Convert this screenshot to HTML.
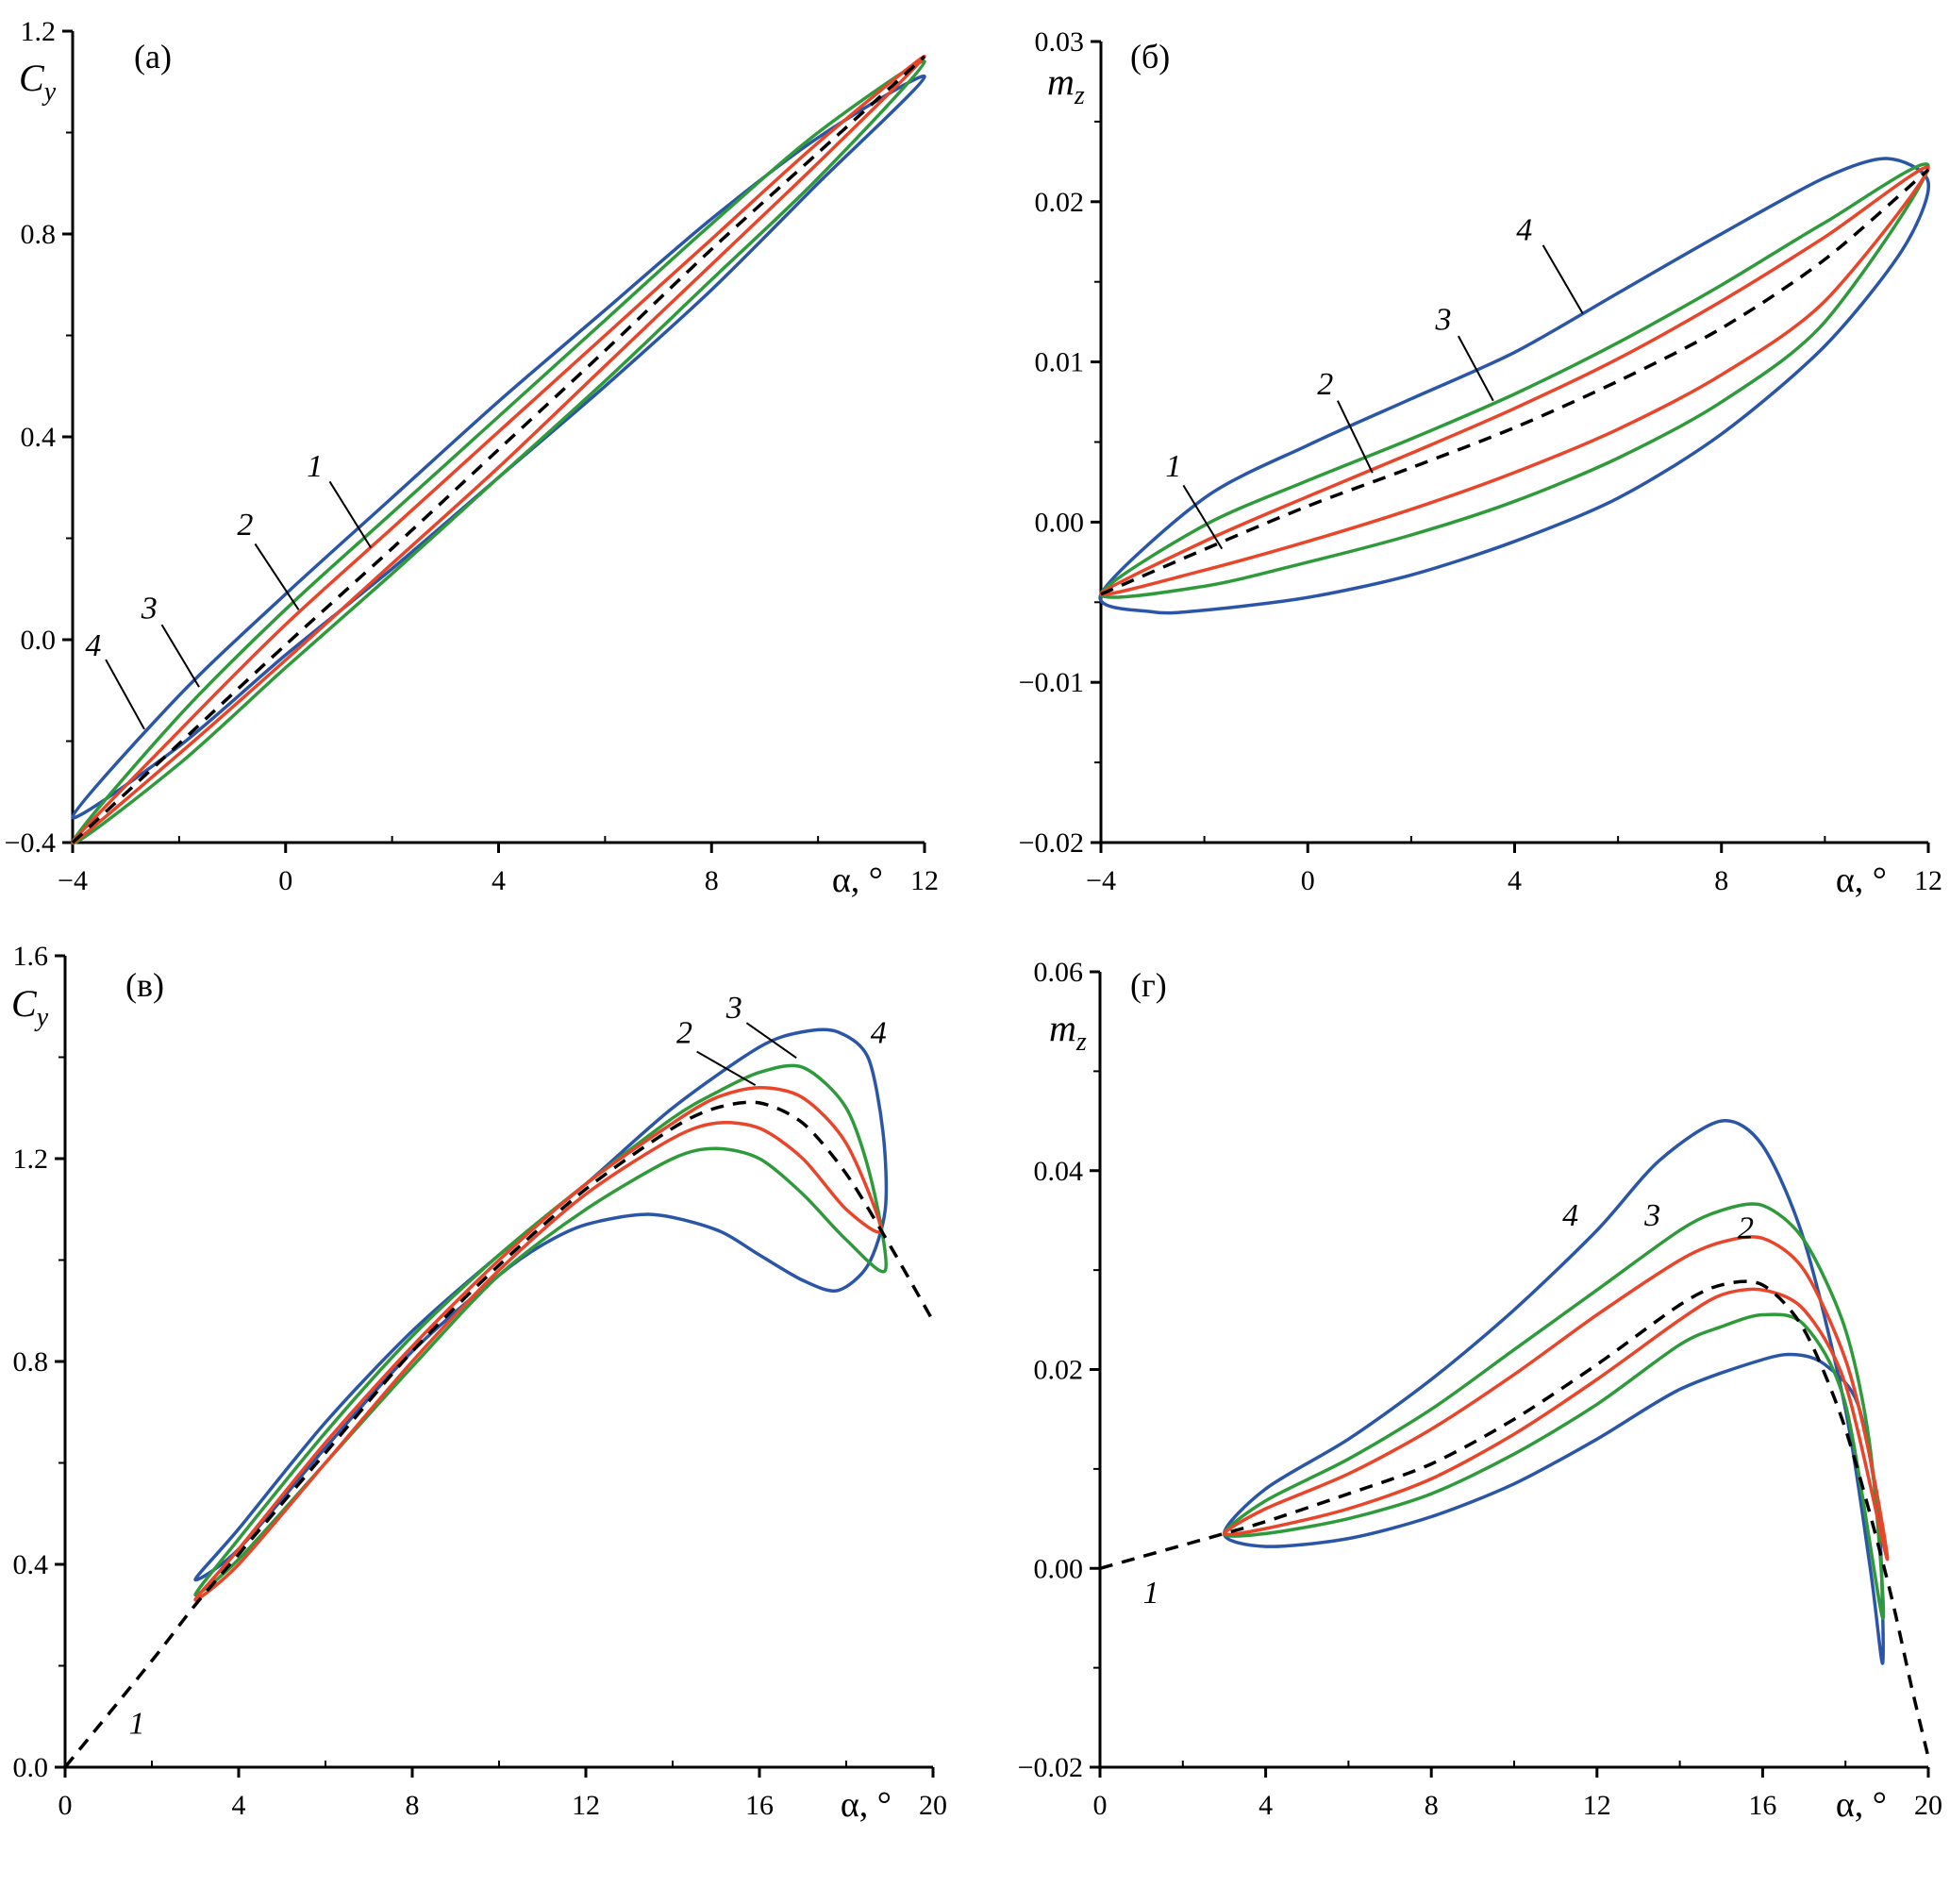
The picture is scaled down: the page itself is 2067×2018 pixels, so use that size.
<!DOCTYPE html>
<html><head><meta charset="utf-8">
<style>
html,body{margin:0;padding:0;background:#fff;}
svg{display:block;font-family:"Liberation Serif",serif;}
</style></head>
<body>
<svg id="chart" width="2067" height="2018" viewBox="0 0 2067 2018" xmlns="http://www.w3.org/2000/svg"></svg>
<script>
// ---------- Panel (a): Cy vs alpha ----------
const aAlpha = [-4,-2,0,2,4,6,8,10,12];
const aDash = [-0.40,-0.205,-0.01,0.18,0.375,0.57,0.77,0.96,1.15];
const aRedUp = [-0.40,-0.18,0.03,0.22,0.41,0.60,0.79,0.98,1.15];
const aRedLo = [-0.40,-0.225,-0.04,0.15,0.34,0.54,0.74,0.94,1.15];
const aGreenUp = [-0.40,-0.15,0.06,0.25,0.44,0.63,0.82,1.00,1.14];
const aGreenLo = [-0.40,-0.245,-0.055,0.13,0.32,0.51,0.71,0.91,1.13];
const aBlueUp = [-0.35,-0.11,0.09,0.28,0.47,0.65,0.83,0.99,1.11];
const aBlueLo = [-0.37,-0.21,-0.03,0.14,0.32,0.50,0.69,0.90,1.11];
const aXTicks = [-4,0,4,8,12];
const aYTicks = [-0.4,0.0,0.4,0.8,1.2];
const aYLabels = ["\u22120.4","0.0","0.4","0.8","1.2"];

// ---------- Panel (b): mz vs alpha ----------
const bAlpha = [-4,-2,0,2,4,6,8,10,12];
const bDash = [-0.0045,-0.0017,0.0010,0.0034,0.0059,0.0088,0.0121,0.0164,0.0220];
const bRedUp = [-0.0045,-0.0012,0.0016,0.0043,0.0071,0.0102,0.0138,0.0178,0.0221];
const bRedLo = [-0.0045,-0.0030,-0.0012,0.0008,0.0031,0.0058,0.0092,0.0138,0.0221];
const bGreenUp = [-0.0045,-0.0002,0.0026,0.0052,0.0080,0.0112,0.0148,0.0187,0.0222];
const bGreenLo = [-0.0045,-0.0040,-0.0025,-0.0008,0.0013,0.0040,0.0075,0.0125,0.0222];
const bBlueUpA = [-4,-2,0,2,4,6,8,10,11.2,12];
const bBlueUp = [-0.0045,0.0015,0.0048,0.0077,0.0106,0.0143,0.0180,0.0215,0.0227,0.0212];
const bBlueLoA = [-4,-3,-2,0,2,4,6,8,10,11.5,12];
const bBlueLo = [-0.0045,-0.0056,-0.0055,-0.0047,-0.0033,-0.0012,0.0015,0.0055,0.0110,0.0170,0.0212];
const bXTicks = [-4,0,4,8,12];
const bYTicks = [-0.02,-0.01,0.00,0.01,0.02,0.03];
const bYLabels = ["\u22120.02","\u22120.01","0.00","0.01","0.02","0.03"];

// ---------- Panel (c): Cy vs alpha, dynamic stall ----------
const cDashA = [0,2,3,4,6,8,10,12,14,15,16,17,18,19,20];
const cDash = [0,0.21,0.32,0.42,0.62,0.82,0.99,1.14,1.26,1.30,1.31,1.27,1.17,1.03,0.88];
const cRedUpA = [3,4,6,8,10,12,14,15,16,17,18,18.8];
const cRedUp = [0.33,0.43,0.64,0.83,1.00,1.15,1.27,1.32,1.34,1.32,1.23,1.06];
const cRedLoA = [3,4,6,8,10,12,14,15,16,17,18,18.8];
const cRedLo = [0.32,0.40,0.60,0.80,0.98,1.13,1.24,1.27,1.26,1.20,1.10,1.04];
const cGreenUpA = [3,4,6,8,10,12,14,15,16,17,18,18.6,18.9];
const cGreenUp = [0.34,0.45,0.66,0.85,1.01,1.15,1.28,1.33,1.37,1.38,1.30,1.15,0.98];
const cGreenLoA = [3,4,6,8,10,12,14,15,16,17,18,18.9];
const cGreenLo = [0.33,0.41,0.60,0.79,0.97,1.10,1.20,1.22,1.20,1.13,1.04,0.98];
const cBlueUpA = [3,4,6,8,10,12,14,16,17,17.8,18.5,18.85,18.9];
const cBlueUp = [0.37,0.47,0.68,0.86,1.01,1.15,1.30,1.42,1.45,1.45,1.40,1.25,1.10];
const cBlueLoA = [3,4,6,8,10,11,12,13.5,15,16,17,17.8,18.5,18.9];
const cBlueLo = [0.36,0.43,0.63,0.82,0.97,1.03,1.07,1.09,1.06,1.01,0.96,0.94,0.99,1.08];
const cXTicks = [0,4,8,12,16,20];
const cYTicks = [0.0,0.4,0.8,1.2,1.6];
const cYLabels = ["0.0","0.4","0.8","1.2","1.6"];

// ---------- Panel (d): mz vs alpha, dynamic stall ----------
const dDashA = [0,3,4,6,8,10,12,14,15,16,17,18,19,19.6,20];
const dDash = [0,0.0035,0.0047,0.0075,0.0105,0.0150,0.0205,0.0265,0.0285,0.0285,0.0240,0.0140,-0.0010,-0.0120,-0.0190];
const dRedUpA = [3,4,6,8,10,12,14,15,16,17,18,18.6,19];
const dRedUp = [0.0035,0.0060,0.0095,0.0140,0.0195,0.0255,0.0310,0.0328,0.0332,0.0300,0.0210,0.0110,0.0010];
const dRedLoA = [3,4,6,8,10,12,14,15,16,17,18,19];
const dRedLo = [0.0035,0.0040,0.0060,0.0090,0.0135,0.0190,0.0250,0.0275,0.0280,0.0260,0.0185,0.0010];
const dGreenUpA = [3,4,6,8,10,12,14,15,16,17,18,18.6,18.9];
const dGreenUp = [0.0035,0.0068,0.0110,0.0160,0.0220,0.0280,0.0340,0.0360,0.0365,0.0330,0.0240,0.0120,-0.0050];
const dGreenLoA = [3,4,6,8,10,12,14,15,16,17,18,18.9];
const dGreenLo = [0.0035,0.0035,0.0050,0.0075,0.0115,0.0165,0.0225,0.0243,0.0255,0.0245,0.0165,-0.0050];
const dBlueUpA = [3,4,6,8,10,12,13.5,15,16,17,18,18.6,18.9];
const dBlueUp = [0.0035,0.0080,0.0130,0.0190,0.0260,0.0340,0.0410,0.0450,0.0425,0.0330,0.0160,0.0000,-0.0095];
const dBlueLoA = [3,4,6,8,10,12,14,16,16.8,17.5,18.3,18.8,18.9];
const dBlueLo = [0.0035,0.0022,0.0030,0.0052,0.0085,0.0130,0.0180,0.0210,0.0215,0.0205,0.0165,0.0050,-0.0095];
const dXTicks = [0,4,8,12,16,20];
const dYTicks = [-0.02,0.00,0.02,0.04,0.06];
const dYLabels = ["\u22120.02","0.00","0.02","0.04","0.06"];

const NS = "http://www.w3.org/2000/svg";
const svg = document.getElementById("chart");
const BLUE = "#2b55a6", GREEN = "#2f9a3b", RED = "#e8452a";

function mk(tag, attrs, parent) {
  const e = document.createElementNS(NS, tag);
  for (const k in attrs) e.setAttribute(k, attrs[k]);
  (parent || svg).appendChild(e);
  return e;
}
function spline(pts, closed) {
  const n = pts.length;
  if (n < 2) return "";
  let d = "M" + pts[0][0].toFixed(1) + "," + pts[0][1].toFixed(1);
  const get = i => closed ? pts[(i + n) % n] : pts[Math.max(0, Math.min(n - 1, i))];
  const last = closed ? n : n - 1;
  const k = 7;
  for (let i = 0; i < last; i++) {
    const p0 = get(i - 1), p1 = get(i), p2 = get(i + 1), p3 = get(i + 2);
    const c1 = [p1[0] + (p2[0] - p0[0]) / k, p1[1] + (p2[1] - p0[1]) / k];
    const c2 = [p2[0] - (p3[0] - p1[0]) / k, p2[1] - (p3[1] - p1[1]) / k];
    d += "C" + c1[0].toFixed(1) + "," + c1[1].toFixed(1) + " " + c2[0].toFixed(1) + "," + c2[1].toFixed(1) + " " + p2[0].toFixed(1) + "," + p2[1].toFixed(1);
  }
  if (closed) d += "Z";
  return d;
}

function panel(cfg) {
  const g = mk("g", {});
  
  
  const sx = v => cfg.x0 + (v - cfg.xmin) / (cfg.xmax - cfg.xmin) * (cfg.x1 - cfg.x0);
  const sy = v => cfg.y0 - (v - cfg.ymin) / (cfg.ymax - cfg.ymin) * (cfg.y0 - cfg.y1);

  const ax = mk("path", {d: "M" + cfg.x0 + "," + cfg.y1 + "V" + cfg.y0 + "H" + cfg.x1, stroke: "#000", "stroke-width": 3, fill: "none"}, g);
  
  

  const xt = cfg.xTicks;
  const xstep = xt[1] - xt[0];
  for (let i = 0; i < xt.length; i++) {
    const X = sx(xt[i]);
    mk("line", {x1: X, x2: X, y1: cfg.y0, y2: cfg.y0 + 11, stroke: "#000", "stroke-width": 3}, g);
    if (i < xt.length - 1) {
      const Xm = sx(xt[i] + xstep / 2);
      mk("line", {x1: Xm, x2: Xm, y1: cfg.y0, y2: cfg.y0 - 7, stroke: "#000", "stroke-width": 2}, g);
    }
    const t = mk("text", {x: X, y: cfg.y0 + 50, "font-size": 30, "text-anchor": "middle"}, g);
    t.textContent = xt[i] < 0 ? "\u2212" + Math.abs(xt[i]) : String(xt[i]);
    
    
  }
  const yt = cfg.yTicks;
  const ystep = yt[1] - yt[0];
  for (let i = 0; i < yt.length; i++) {
    const Y = sy(yt[i]);
    mk("line", {x1: cfg.x0 - 11, x2: cfg.x0, y1: Y, y2: Y, stroke: "#000", "stroke-width": 3}, g);
    if (i < yt.length - 1) {
      const Ym = sy(yt[i] + ystep / 2);
      mk("line", {x1: cfg.x0 - 7, x2: cfg.x0, y1: Ym, y2: Ym, stroke: "#000", "stroke-width": 2}, g);
    }
    const t = mk("text", {x: cfg.x0 - 18, y: Y + 10, "font-size": 30, "text-anchor": "end"}, g);
    t.textContent = cfg.yLabels[i];
    
    
  }
  const xa = mk("text", {x: cfg.x1 - 44, y: cfg.y0 + 52, "font-size": 38, "text-anchor": "end"}, g);
  xa.textContent = "\u03b1, \u00b0";
  
  
  const ya = mk("text", {x: cfg.ytx, y: cfg.yty, "font-size": 40, "font-style": "italic"}, g);
  
  
  const ts1 = mk("tspan", {}, ya); ts1.textContent = cfg.ytitle;
  const ts2 = mk("tspan", {dy: 10, "font-size": 28}, ya); ts2.textContent = cfg.ysub;
  const pl = mk("text", {x: cfg.lx, y: cfg.ly, "font-size": 36}, g);
  pl.textContent = cfg.letter;
  
  

  for (const s of cfg.loops) {
    const up = s.ua.map((a, i) => [sx(a), sy(s.uv[i])]);
    const lo = s.la.map((a, i) => [sx(a), sy(s.lv[i])]);
    const pts = up.concat(lo.slice().reverse().slice(1, lo.length - 1));
    const p = mk("path", {d: spline(pts, true), stroke: s.color, "stroke-width": 3.5, fill: "none", "stroke-linejoin": "round"}, g);
    
    
  }
  const dp = cfg.dash.a.map((a, i) => [sx(a), sy(cfg.dash.v[i])]);
  const dl = mk("path", {d: spline(dp, false), stroke: "#000", "stroke-width": 3.5, fill: "none", "stroke-dasharray": "14,10"}, g);
  
  

  for (const an of cfg.ann) {
    const t = mk("text", {x: an.x, y: an.y, "font-size": 34, "font-style": "italic", "text-anchor": "middle"}, g);
    t.textContent = an.t;
    
    
    if (an.l) mk("line", {x1: an.l[0], y1: an.l[1], x2: an.l[2], y2: an.l[3], stroke: "#000", "stroke-width": 2}, g);
  }
}

const S = 1.319;
panel({name: "panel-a-cy", x0: 77, x1: 980, y0: 893, y1: 33, xmin: -4, xmax: 12, ymin: -0.4, ymax: 1.2,
  xTicks: aXTicks, yTicks: aYTicks, yLabels: aYLabels, ytitle: "C", ysub: "y", ytx: 20, yty: 96, letter: "(a)", lx: 142, ly: 72,
  dash: {a: aAlpha, v: aDash},
  loops: [
    {name: "loop-4-blue", color: BLUE, ua: aAlpha, uv: aBlueUp, la: aAlpha, lv: aBlueLo},
    {name: "loop-3-green", color: GREEN, ua: aAlpha, uv: aGreenUp, la: aAlpha, lv: aGreenLo},
    {name: "loop-2-red", color: RED, ua: aAlpha, uv: aRedUp, la: aAlpha, lv: aRedLo}],
  ann: [
    {t: "4", x: 75*S, y: 527*S, l: [85*S, 530*S, 116*S, 586*S]},
    {t: "3", x: 120*S, y: 497*S, l: [130*S, 502*S, 160*S, 552*S]},
    {t: "2", x: 197*S, y: 430*S, l: [205*S, 437*S, 240*S, 490*S]},
    {t: "1", x: 253*S, y: 383*S, l: [265*S, 387*S, 298*S, 440*S]}]
});
panel({name: "panel-b-mz", x0: 1167, x1: 2044, y0: 893, y1: 44, xmin: -4, xmax: 12, ymin: -0.02, ymax: 0.03,
  xTicks: bXTicks, yTicks: bYTicks, yLabels: bYLabels, ytitle: "m", ysub: "z", ytx: 1110, yty: 100, letter: "(\u0431)", lx: 1198, ly: 72,
  dash: {a: bAlpha, v: bDash},
  loops: [
    {name: "loop-4-blue", color: BLUE, ua: bBlueUpA, uv: bBlueUp, la: bBlueLoA, lv: bBlueLo},
    {name: "loop-3-green", color: GREEN, ua: bAlpha, uv: bGreenUp, la: bAlpha, lv: bGreenLo},
    {name: "loop-2-red", color: RED, ua: bAlpha, uv: bRedUp, la: bAlpha, lv: bRedLo}],
  ann: [
    {t: "4", x: 1225*S, y: 193*S, l: [1240*S, 197*S, 1272*S, 252*S]},
    {t: "3", x: 1160*S, y: 265*S, l: [1172*S, 270*S, 1200*S, 322*S]},
    {t: "2", x: 1065*S, y: 317*S, l: [1075*S, 322*S, 1103*S, 380*S]},
    {t: "1", x: 943*S, y: 383*S, l: [951*S, 390*S, 982*S, 441*S]}]
});
panel({name: "panel-c-cy-stall", x0: 69, x1: 989, y0: 1873, y1: 1013, xmin: 0, xmax: 20, ymin: 0, ymax: 1.6,
  xTicks: cXTicks, yTicks: cYTicks, yLabels: cYLabels, ytitle: "C", ysub: "y", ytx: 12, yty: 1077, letter: "(\u0432)", lx: 133, ly: 1056,
  dash: {a: cDashA, v: cDash},
  loops: [
    {name: "loop-4-blue", color: BLUE, ua: cBlueUpA, uv: cBlueUp, la: cBlueLoA, lv: cBlueLo},
    {name: "loop-3-green", color: GREEN, ua: cGreenUpA, uv: cGreenUp, la: cGreenLoA, lv: cGreenLo},
    {name: "loop-2-red", color: RED, ua: cRedUpA, uv: cRedUp, la: cRedLoA, lv: cRedLo}],
  ann: [
    {t: "2", x: 550*S, y: 838*S, l: [560*S, 845*S, 607*S, 872*S]},
    {t: "3", x: 590*S, y: 818*S, l: [600*S, 822*S, 640*S, 850*S]},
    {t: "4", x: 706*S, y: 838*S},
    {t: "1", x: 110*S, y: 1393*S}]
});
panel({name: "panel-d-mz-stall", x0: 1166, x1: 2044, y0: 1873, y1: 1030, xmin: 0, xmax: 20, ymin: -0.02, ymax: 0.06,
  xTicks: dXTicks, yTicks: dYTicks, yLabels: dYLabels, ytitle: "m", ysub: "z", ytx: 1112, yty: 1103, letter: "(\u0433)", lx: 1198, ly: 1056,
  dash: {a: dDashA, v: dDash},
  loops: [
    {name: "loop-4-blue", color: BLUE, ua: dBlueUpA, uv: dBlueUp, la: dBlueLoA, lv: dBlueLo},
    {name: "loop-3-green", color: GREEN, ua: dGreenUpA, uv: dGreenUp, la: dGreenLoA, lv: dGreenLo},
    {name: "loop-2-red", color: RED, ua: dRedUpA, uv: dRedUp, la: dRedLoA, lv: dRedLo}],
  ann: [
    {t: "4", x: 1262*S, y: 985*S},
    {t: "3", x: 1328*S, y: 985*S},
    {t: "2", x: 1403*S, y: 995*S},
    {t: "1", x: 925*S, y: 1288*S}]
});
</script>
</body></html>
